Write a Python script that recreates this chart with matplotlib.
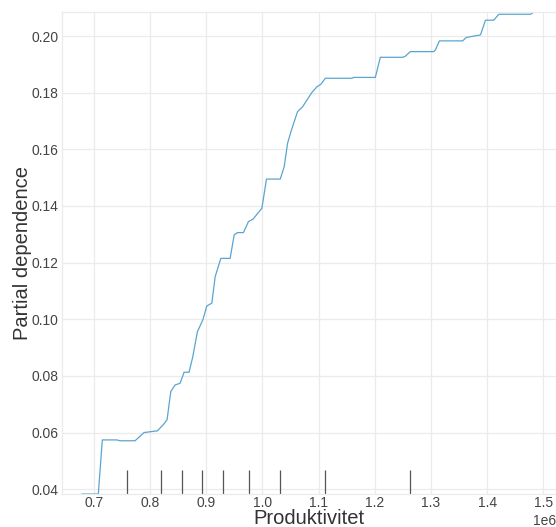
import matplotlib.pyplot as plt
import numpy as np

plt.rcParams['font.family'] = ['Liberation Sans', 'DejaVu Sans']

# partial dependence curve for Produktivitet (x in units of 1e6)
grid_x = [0.6786, 0.7077, 0.7148, 0.7405, 0.7463, 0.7731, 0.7891, 0.8128,
          0.8230, 0.8301, 0.8367, 0.8444, 0.8533, 0.8604, 0.8693, 0.8759,
          0.8841, 0.8938, 0.9009, 0.9098, 0.9157, 0.9258, 0.9424, 0.9496,
          0.9554, 0.9661, 0.9750, 0.9829, 0.9989, 1.0071, 1.0316, 1.0387,
          1.0446, 1.0506, 1.0565, 1.0624, 1.0713, 1.0791, 1.0880, 1.0970,
          1.1041, 1.1118, 1.1594, 1.1622, 1.2009, 1.2098, 1.2496, 1.2544,
          1.2633, 1.3048, 1.3078, 1.3150, 1.3565, 1.3626, 1.3881, 1.3970,
          1.4118, 1.4207, 1.4772, 1.4831]
pd_vals = [0.0383, 0.0383, 0.0574, 0.0574, 0.0571, 0.0571, 0.0600, 0.0606,
           0.0627, 0.0645, 0.0745, 0.0768, 0.0774, 0.0813, 0.0813, 0.0868,
           0.0956, 0.0998, 0.1047, 0.1057, 0.1150, 0.1215, 0.1215, 0.1298,
           0.1306, 0.1306, 0.1345, 0.1353, 0.1392, 0.1495, 0.1495, 0.1539,
           0.1621, 0.1662, 0.1698, 0.1733, 0.1750, 0.1774, 0.1801, 0.1821,
           0.1830, 0.1851, 0.1851, 0.1854, 0.1854, 0.1925, 0.1925, 0.1929,
           0.1945, 0.1945, 0.1951, 0.1983, 0.1983, 0.1995, 0.2004, 0.2056,
           0.2056, 0.2077, 0.2077, 0.2084]
deciles = [0.7594, 0.8189, 0.8563, 0.8930, 0.9305, 0.9758, 1.0316, 1.1105, 1.2620]

x = np.array(grid_x) * 1e6
y = np.array(pd_vals)
dec = np.array(deciles) * 1e6

fig = plt.figure(figsize=(5.56, 5.27), dpi=100)
ax = fig.add_axes([0.112, 0.0626, 0.888, 0.9141])

ax.plot(x, y, color='#5aa5cf', linewidth=0.9)
trans = ax.get_xaxis_transform()
ax.vlines(dec, 0, 0.05, transform=trans, color='#555555', linewidth=0.9)

ax.set_xlim(0.6435e6, 1.5226e6)
ax.set_ylim(y.min(), y.max())
ax.set_xticks(np.arange(0.7, 1.51, 0.1) * 1e6)
ax.set_yticks(np.arange(0.04, 0.201, 0.02))

ax.grid(True, color='#ebebeb', linewidth=0.9)
ax.set_axisbelow(True)
for s in ax.spines.values():
    s.set_color('#ebebeb')
    s.set_linewidth(0.9)
ax.spines['right'].set_visible(False)
ax.tick_params(length=0, labelsize=10, labelcolor='#444444')
ax.tick_params(axis='x', pad=1.5)
ax.tick_params(axis='y', pad=2.5)
ax.xaxis.get_offset_text().set_fontsize(10)
ax.xaxis.get_offset_text().set_color('#444444')

ax.set_xlabel('Produktivitet', fontsize=14.5, color='#333333', labelpad=-1)
ax.set_ylabel('Partial dependence', fontsize=14.5, color='#333333', labelpad=0)

fig.savefig('out.png', dpi=100)
